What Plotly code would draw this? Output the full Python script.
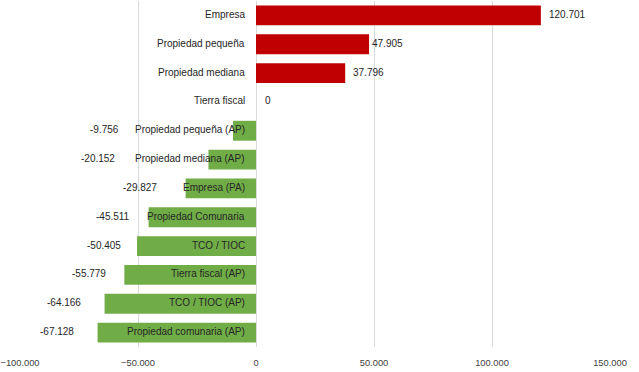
import plotly.graph_objects as go

categories = ["Empresa", "Propiedad pequeña", "Propiedad mediana", "Tierra fiscal",
              "Propiedad pequeña (AP)", "Propiedad mediana (AP)", "Empresa (PA)",
              "Propiedad Comunaria", "TCO / TIOC", "Tierra fiscal (AP)",
              "TCO / TIOC (AP)", "Propiedad comunaria (AP)"]
values = [120701, 47905, 37796, 0, -9756, -20152, -29827, -45511, -50405, -55779, -64166, -67128]
value_labels = ["120.701", "47.905", "37.796", "0", "-9.756", "-20.152", "-29.827",
                "-45.511", "-50.405", "-55.779", "-64.166", "-67.128"]
tick_vals = [-100000, -50000, 0, 50000, 100000, 150000]

# label pixel offsets (manually placed labels in the original)
label_shift = [6, 1, 6, 7, -112, -91, -27, -17, -14, -16, -22, -22]

RED = "#C00000"
GREEN = "#70AD47"
colors = [RED if v > 0 else GREEN for v in values]
FONT = "Liberation Sans, Arial, sans-serif"

fig = go.Figure(go.Bar(
    x=values, y=categories, orientation="h",
    marker=dict(color=colors, line=dict(width=0)),
    hoverinfo="skip",
))

annotations = []
for cat, v, lab, sh in zip(categories, values, value_labels, label_shift):
    annotations.append(dict(
        x=0, y=cat, xref="x", yref="y", text=cat, showarrow=False,
        xanchor="right", xshift=-9, yshift=1,
        font=dict(family=FONT, size=10, color="#262626")))
    annotations.append(dict(
        x=v, y=cat, xref="x", yref="y", text=lab, showarrow=False,
        xanchor="left" if v >= 0 else "right", xshift=sh, yshift=1,
        font=dict(family=FONT, size=10, color="#262626")))

fig.update_layout(
    width=639, height=372,
    margin=dict(l=20, r=29, t=1, b=24.5, pad=0, autoexpand=False),
    paper_bgcolor="white", plot_bgcolor="white",
    separators=",.",
    bargap=0.31,
    showlegend=False,
    annotations=annotations,
    xaxis=dict(range=[-100000, 150000], tickvals=tick_vals, tickformat=",d",
               showgrid=True, gridcolor="#D9D9D9", gridwidth=1,
               zeroline=True, zerolinecolor="#D9D9D9", zerolinewidth=1,
               showline=False, ticks="", ticklabelstandoff=9, automargin=False,
               tickfont=dict(family=FONT, size=9.3, color="#404040"),
               fixedrange=True),
    yaxis=dict(categoryorder="array", categoryarray=categories, autorange="reversed",
               showticklabels=False, showgrid=False, zeroline=False, showline=False,
               ticks="", fixedrange=True, automargin=False),
)

fig.write_html("out.html", config={"displayModeBar": False},
               post_script="document.body.style.margin='0px';")
